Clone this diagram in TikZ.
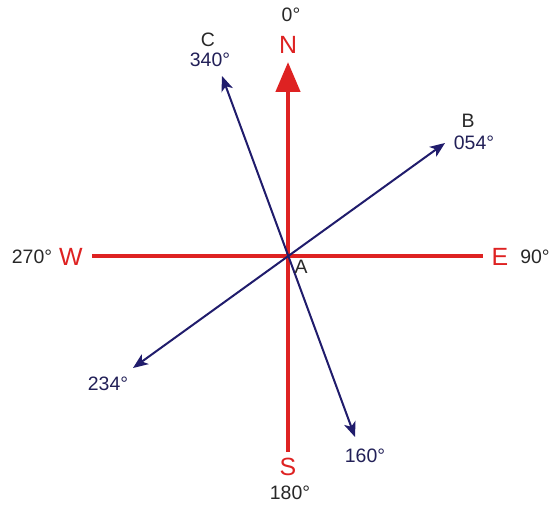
\documentclass[tikz,border=0pt]{standalone}
\usepackage{fontspec}
\setmainfont{Liberation Sans}
\usetikzlibrary{arrows.meta}
\definecolor{cred}{RGB}{222,34,34}
\definecolor{cnavy}{RGB}{32,28,108}
\definecolor{ctext}{RGB}{40,40,40}
\tikzset{
  cardinal/.style={text=cred, font=\fontsize{25}{25}\selectfont, inner sep=0pt},
  deg/.style={text=ctext, font=\fontsize{19.5}{20}\selectfont, inner sep=0pt},
  ndeg/.style={text=cnavy!70!ctext, font=\fontsize{19.5}{20}\selectfont, inner sep=0pt},
  redline/.style={draw=cred, line width=4.5bp},
  bearing/.style={draw=cnavy, line width=2bp, {Stealth[length=15bp,width=12bp,inset=4bp]}-{Stealth[length=15bp,width=12bp,inset=4bp]}},
}
\begin{document}
\begin{tikzpicture}[x=1bp,y=-1bp]
\useasboundingbox[fill=white] (0,0) rectangle (552,506);
\coordinate (A) at (288,256);
\coordinate (Ntip) at (288,62);
\coordinate (Send) at (288,452);
\coordinate (Wend) at (92,256);
\coordinate (Eend) at (483,256);
\coordinate (tC) at (222,76);
\coordinate (t160) at (355,437);
\coordinate (tB) at (445,143);
\coordinate (t234) at (133,368);
\draw[redline] (Wend) -- (Eend);
\draw[redline, -{Triangle[length=30bp,width=24bp]}] (Send) -- (Ntip);
\draw[bearing] (t160) -- (tC);
\draw[bearing] (t234) -- (tB);
\node[cardinal] (N) at (288,45) {N};
\node[cardinal] (S) at (288,467) {S};
\node[cardinal] (W) at (71,257) {W};
\node[cardinal] (E) at (500,257) {E};
\node[deg] (d0) at (291,15) {0°};
\node[deg] (d180) at (290,493) {180°};
\node[deg] (d270) at (32,257) {270°};
\node[deg] (d90) at (535,257) {90°};
\node[deg] (lC) at (208,40) {C};
\node[ndeg] (d340) at (210,60) {340°};
\node[deg] (lB) at (468,121) {B};
\node[ndeg] (d054) at (474,143) {054°};
\node[ndeg] (d234) at (108,384) {234°};
\node[ndeg] (d160) at (365,456) {160°};
\node[deg] (lA) at (301,267) {A};
\end{tikzpicture}
\end{document}
